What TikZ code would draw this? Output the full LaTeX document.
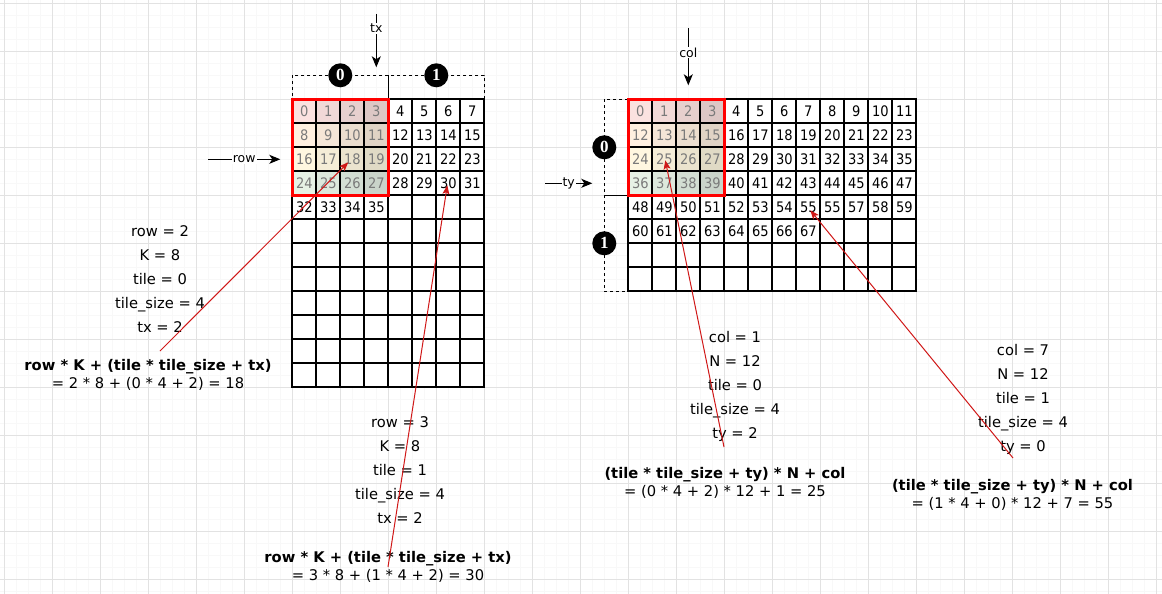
\documentclass[tikz,border=0pt]{standalone}
\usepackage{fontspec}
\setmainfont{DejaVu Sans}
\newfontfamily\condfont{DejaVu Sans Condensed}
\newfontfamily\serifnum{Liberation Serif}
\usetikzlibrary{arrows.meta}
\definecolor{gmaj}{HTML}{E2E2E2}
\definecolor{gmin}{HTML}{F8F8F8}
\definecolor{arrowred}{HTML}{D01818}
\definecolor{tileA}{HTML}{F8CECC}
\definecolor{tileB}{HTML}{FFE6CC}
\definecolor{tileC}{HTML}{FFF2CC}
\definecolor{tileD}{HTML}{D5E8D4}
\colorlet{tile0}{tileA!60!white}
\colorlet{tile1}{tileB!60!white}
\colorlet{tile2}{tileC!60!white}
\colorlet{tile3}{tileD!60!white}
\newcommand\mycellfont{\condfont\fontsize{14.5}{15}\selectfont}
\newcommand\myannfont{\fontsize{14.7}{24}\selectfont}
\newcommand\myformfont{\fontsize{14.7}{17.5}\selectfont}
\newcommand\mylabfont{\fontsize{12.5}{14}\selectfont}
\tikzset{
  cell/.style={draw=black, line width=2pt, fill=white, minimum width=24pt, minimum height=24pt,
    inner sep=0pt, outer sep=0pt, font=\mycellfont, anchor=center},
  tcell/.style={cell, text=black!52},
  tilebox/.style={draw=red, line width=2.5pt},
  dashbox/.style={draw=black, line width=1pt, dash pattern=on 3pt off 3pt},
  badge/.style={circle, fill=black, text=white, minimum size=24pt, inner sep=0pt,
    font=\serifnum\bfseries\fontsize{17}{17}\selectfont},
  blackarrow/.style={draw=black, line width=1pt, -{Stealth[length=11pt,width=9pt,inset=3pt]}},
  redarrow/.style={draw=arrowred, line width=1pt, -{Stealth[length=9pt,width=7pt,inset=2pt]}},
  arrowlabel/.style={fill=white, inner sep=1pt, font=\mylabfont},
  ann/.style={align=center, font=\myannfont, inner sep=0pt},
  form/.style={align=center, font=\myformfont, inner sep=0pt},
}
\begin{document}
\begin{tikzpicture}[x=1pt,y=-1pt]
\useasboundingbox (0,0) rectangle (1162,594);
\fill[white] (0,0) rectangle (1162,594);
% background grid
\foreach \k in {0,...,96} {\draw[gmin, line width=1pt] ({4.3+12*\k},0) -- ({4.3+12*\k},594);}
\foreach \k in {0,...,49} {\draw[gmin, line width=1pt] (0,{3.3+12*\k}) -- (1162,{3.3+12*\k});}
\foreach \k in {0,...,24} {\draw[gmaj, line width=1pt] ({4.3+48*\k},0) -- ({4.3+48*\k},594);}
\foreach \k in {0,...,12} {\draw[gmaj, line width=1pt] (0,{3.3+48*\k}) -- (1162,{3.3+48*\k});}

% ---------- left matrix (8 x 12) ----------
\foreach \r in {0,...,11} {
  \foreach \c in {0,...,7} {
    \pgfmathtruncatemacro\n{\r*8+\c}
    \pgfmathtruncatemacro\s{100-4*\c}
    \pgfmathtruncatemacro\istile{and(\r<4,\c<4)}
    \ifnum\istile=1 \tikzset{cst/.style={tcell, fill=tile\r!\s!black}}\else\tikzset{cst/.style={cell}}\fi
    \node[cst] (L\n) at ({304.3+24*\c},{111.3+24*\r}) {\ifnum\n<36 \n\fi};
  }
}
\draw[dashbox] ([yshift=24pt]L0.north west) rectangle (L3.north east);
\draw[dashbox] ([yshift=24pt]L4.north west) rectangle (L7.north east);
\draw[tilebox] (L0.north west) rectangle (L27.south east);
\node[badge] (b0) at ([yshift=24pt]L1.north east) {0};
\node[badge] (b1) at ([yshift=24pt]L5.north east) {1};

\coordinate (txs) at (376.3,14);
\draw[blackarrow] (txs) -- node[arrowlabel, pos=0.27] (txl) {tx} ([yshift=32pt]L3.north);
\coordinate (rows) at (208,159.3);
\draw[blackarrow] (rows) -- node[arrowlabel] (rowl) {row} ([xshift=-12pt]L16.west);

% ---------- right matrix (12 x 8) ----------
\foreach \r in {0,...,7} {
  \foreach \c in {0,...,11} {
    \pgfmathtruncatemacro\n{\r*12+\c}
    \pgfmathtruncatemacro\s{100-4*\c}
    \pgfmathtruncatemacro\istile{and(\r<4,\c<4)}
    \ifnum\istile=1 \tikzset{cst/.style={tcell, fill=tile\r!\s!black}}\else\tikzset{cst/.style={cell}}\fi
    \node[cst] (R\n) at ({640.3+24*\c},{111.3+24*\r}) {\ifnum\n=56 55\else\ifnum\n<68 \n\fi\fi};
  }
}
\draw[dashbox] ([xshift=-24pt]R0.north west) rectangle (R36.south west);
\draw[dashbox] ([xshift=-24pt]R48.north west) rectangle (R84.south west);
\draw[tilebox] (R0.north west) rectangle (R39.south east);
\node[badge] (c0) at ([xshift=-24pt]R12.south west) {0};
\node[badge] (c1) at ([xshift=-24pt]R60.south west) {1};

\coordinate (cols) at (688.3,28);
\draw[blackarrow] (cols) -- node[arrowlabel, pos=0.43] (coll) {col} ([yshift=14pt]R2.north);
\coordinate (tys) at (545,183.3);
\draw[blackarrow] (tys) -- node[arrowlabel] (tyl) {ty} ([xshift=-36pt]R36.west);

% ---------- annotations ----------
\node[ann] (v1) at (160,279) {row = 2\\K = 8\\tile = 0\\tile\_size = 4\\tx = 2};
\node[form] (f1) at (148,375) {\textbf{row * K + (tile * tile\_size + tx)}\\= 2 * 8 + (0 * 4 + 2) = 18};

\node[ann] (v2) at (400,470) {row = 3\\K = 8\\tile = 1\\tile\_size = 4\\tx = 2};
\node[form] (f2) at (388,567) {\textbf{row * K + (tile * tile\_size + tx)}\\= 3 * 8 + (1 * 4 + 2) = 30};

\node[ann] (v3) at (735,386) {col = 1\\N = 12\\tile = 0\\tile\_size = 4\\ty = 2};
\node[form] (f3) at (725,483) {\textbf{(tile * tile\_size + ty) * N + col}\\= (0 * 4 + 2) * 12 + 1 = 25};

\node[ann] (v4) at (1023,399) {col = 7\\N = 12\\tile = 1\\tile\_size = 4\\ty = 0};
\node[form] (f4) at (1012.5,495) {\textbf{(tile * tile\_size + ty) * N + col}\\= (1 * 4 + 0) * 12 + 7 = 55};

% ---------- red pointers ----------
\coordinate (a1) at (160,351);
\coordinate (a2) at (388,567);
\coordinate (a3) at (724,447);
\coordinate (a4) at (1013,458);
\draw[redarrow] (a1) -- ([xshift=-4pt,yshift=-3pt]L18.center);
\draw[redarrow] (a2) -- ([xshift=-1pt,yshift=-2pt]L30.center);
\draw[redarrow] (a3) -- ([xshift=1pt,yshift=-1pt]R25.center);
\draw[redarrow] (a4) -- ([xshift=2pt,yshift=-3pt]R55.center);
\end{tikzpicture}
\end{document}
